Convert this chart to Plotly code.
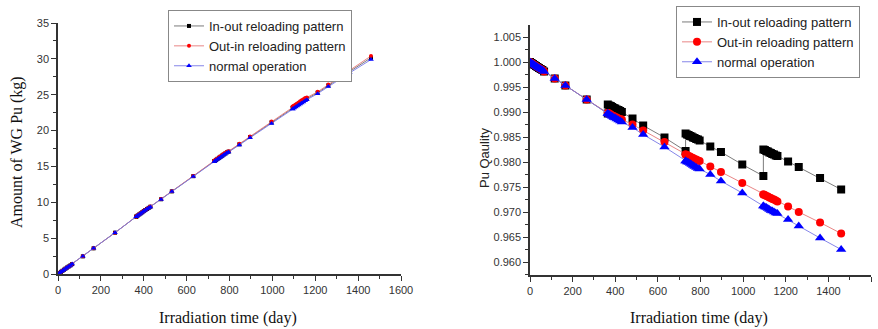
import plotly.graph_objects as go

# ---------------- data ----------------
time = [0, 7, 14, 21, 28, 35, 42, 50, 58, 66, 116, 166, 266, 365,
        365, 372, 379, 386, 393, 400, 407, 415, 423, 431, 481, 531, 631, 730,
        730, 737, 744, 751, 758, 765, 772, 780, 788, 796, 846, 896, 996, 1095,
        1095, 1102, 1109, 1116, 1123, 1130, 1137, 1145, 1153, 1161, 1211, 1261, 1361, 1460]

# Amount of WG Pu (kg)
wg_inout = [0, 0.15, 0.3, 0.45, 0.6, 0.75, 0.9, 1.05, 1.2, 1.38, 2.46, 3.58, 5.76, 8.0,
            8.0, 8.16, 8.31, 8.46, 8.61, 8.77, 8.92, 9.07, 9.22, 9.38, 10.42, 11.52, 13.64, 15.76,
            15.76, 15.91, 16.06, 16.2, 16.35, 16.5, 16.64, 16.8, 16.96, 17.06, 18.08, 19.1, 21.14, 23.18,
            23.18, 23.32, 23.46, 23.6, 23.74, 23.88, 24.02, 24.18, 24.33, 24.45, 25.28, 26.3, 28.24, 30.15]
wg_outin = [0, 0.15, 0.3, 0.45, 0.6, 0.75, 0.9, 1.05, 1.2, 1.38, 2.46, 3.58, 5.76, 8.02,
            8.02, 8.18, 8.33, 8.48, 8.63, 8.79, 8.94, 9.09, 9.24, 9.4, 10.45, 11.55, 13.68, 15.82,
            15.82, 15.97, 16.12, 16.27, 16.42, 16.57, 16.72, 16.88, 17.03, 17.12, 18.15, 19.18, 21.27, 23.35,
            23.35, 23.5, 23.64, 23.79, 23.93, 24.08, 24.22, 24.38, 24.53, 24.6, 25.4, 26.42, 28.42, 30.4]
wg_normal = [0, 0.15, 0.3, 0.45, 0.6, 0.75, 0.9, 1.05, 1.2, 1.38, 2.46, 3.58, 5.76, 8.0,
             8.0, 8.15, 8.3, 8.45, 8.6, 8.75, 8.9, 9.05, 9.2, 9.36, 10.4, 11.5, 13.6, 15.7,
             15.7, 15.85, 16.0, 16.14, 16.29, 16.43, 16.58, 16.74, 16.9, 17.0, 18.0, 19.0, 21.0, 23.0,
             23.0, 23.14, 23.28, 23.42, 23.56, 23.7, 23.84, 24.0, 24.16, 24.3, 25.15, 26.15, 28.05, 29.9]

# Pu quality
q_inout = [1.0000, 0.9998, 0.9996, 0.9994, 0.9992, 0.9990, 0.9988, 0.9986, 0.9984, 0.9981, 0.9967, 0.9953, 0.9925, 0.9897,
           0.9915, 0.9913, 0.9912, 0.9910, 0.9908, 0.9907, 0.9905, 0.9904, 0.9902, 0.9900, 0.9887, 0.9873, 0.9849, 0.9822,
           0.9857, 0.9855, 0.9854, 0.9852, 0.9851, 0.9849, 0.9848, 0.9846, 0.9845, 0.9843, 0.9831, 0.9820, 0.9795, 0.9772,
           0.9825, 0.9824, 0.9822, 0.9821, 0.9819, 0.9818, 0.9816, 0.9815, 0.9813, 0.9812, 0.9801, 0.9790, 0.9768, 0.9745]
q_outin = [1.0000, 0.9998, 0.9996, 0.9994, 0.9992, 0.9990, 0.9988, 0.9986, 0.9984, 0.9981, 0.9967, 0.9953, 0.9925, 0.9898,
           0.9898, 0.9897, 0.9895, 0.9893, 0.9892, 0.9890, 0.9889, 0.9887, 0.9886, 0.9885, 0.9875, 0.9863, 0.9840, 0.9815,
           0.9815, 0.9814, 0.9812, 0.9811, 0.9809, 0.9808, 0.9806, 0.9805, 0.9803, 0.9802, 0.9791, 0.9780, 0.9758, 0.9735,
           0.9735, 0.9734, 0.9732, 0.9731, 0.9729, 0.9728, 0.9726, 0.9725, 0.9723, 0.9721, 0.9711, 0.9700, 0.9679, 0.9657]
q_normal = [1.0000, 0.9998, 0.9996, 0.9994, 0.9992, 0.9990, 0.9988, 0.9986, 0.9984, 0.9981, 0.9967, 0.9953, 0.9925, 0.9897,
            0.9897, 0.9895, 0.9893, 0.9891, 0.9889, 0.9888, 0.9886, 0.9884, 0.9882, 0.9880, 0.9869, 0.9855, 0.9830, 0.9802,
            0.9802, 0.9800, 0.9799, 0.9797, 0.9795, 0.9793, 0.9791, 0.9789, 0.9787, 0.9786, 0.9775, 0.9762, 0.9738, 0.9712,
            0.9712, 0.9710, 0.9709, 0.9707, 0.9705, 0.9703, 0.9702, 0.9700, 0.9698, 0.9697, 0.9685, 0.9672, 0.9648, 0.9625]

names = ["In-out reloading pattern", "Out-in reloading pattern", "normal operation"]

# ---------------- figure ----------------
W, H = 878, 329
fig = go.Figure()

styles = [
    dict(color="black", line="rgba(90,90,90,0.8)", symbol="square"),
    dict(color="red", line="rgba(230,120,120,0.9)", symbol="circle"),
    dict(color="blue", line="rgba(120,120,230,0.9)", symbol="triangle-up"),
]

for name, y, st, ms in zip(names, [wg_inout, wg_outin, wg_normal], styles, [4, 4, 5]):
    fig.add_trace(go.Scatter(
        x=time, y=y, name=name, mode="lines+markers",
        line=dict(color=st["line"], width=1),
        marker=dict(color=st["color"], symbol=st["symbol"], size=ms),
        xaxis="x", yaxis="y", legend="legend"))

for name, y, st, ms in zip(names, [q_inout, q_outin, q_normal], styles, [8, 8, 9]):
    fig.add_trace(go.Scatter(
        x=time, y=y, name=name, mode="lines+markers",
        line=dict(color=st["line"], width=1),
        marker=dict(color=st["color"], symbol=st["symbol"], size=ms),
        xaxis="x2", yaxis="y2", legend="legend2"))

tickfont = dict(family="Liberation Sans, Arial", size=11, color="#333")
axis_common = dict(showline=True, linecolor="#333", linewidth=1.5, ticks="outside",
                   ticklen=5, tickwidth=1, tickcolor="#333", showgrid=False, zeroline=False,
                   tickfont=tickfont, automargin=False)


def px_x(p):
    return p / W


def px_y(p):
    return 1 - p / H


fig.update_layout(
    width=W, height=H,
    margin=dict(l=0, r=0, t=0, b=0, autoexpand=False),
    paper_bgcolor="white", plot_bgcolor="white",
    xaxis=dict(domain=[px_x(58), px_x(401)], range=[0, 1600], dtick=200,
               minor=dict(ticks="outside", ticklen=3, dtick=100, tickcolor="#333"),
               anchor="y", **axis_common),
    yaxis=dict(domain=[px_y(274), px_y(23)], range=[0, 35], dtick=5,
               minor=dict(ticks="outside", ticklen=3, dtick=2.5, tickcolor="#333"),
               anchor="x", **axis_common),
    xaxis2=dict(domain=[px_x(530), px_x(871)], range=[0, 1600], dtick=200,
                minor=dict(ticks="outside", ticklen=3, dtick=100, tickcolor="#333"),
                anchor="y2", **axis_common),
    yaxis2=dict(domain=[px_y(275), px_y(25)], range=[0.9574, 1.0074], dtick=0.005,
                tickformat=".3f",
                minor=dict(ticks="outside", ticklen=3, dtick=0.0025, tickcolor="#333"),
                anchor="x2", **axis_common),
    legend=dict(x=px_x(168), y=px_y(10), xanchor="left", yanchor="top",
                bordercolor="#888", borderwidth=1, bgcolor="white",
                font=dict(family="Liberation Sans, Arial", size=13, color="#222"),
                tracegroupgap=0, itemwidth=30),
    legend2=dict(x=px_x(676), y=px_y(6), xanchor="left", yanchor="top",
                 bordercolor="#888", borderwidth=1, bgcolor="white",
                 font=dict(family="Liberation Sans, Arial", size=13, color="#222"),
                 tracegroupgap=0, itemwidth=30),
    showlegend=True,
)

serif = dict(family="Liberation Serif, Times New Roman", size=16, color="#111")
annots = [
    dict(text="Irradiation time (day)", x=px_x(228), y=px_y(318), font=serif, textangle=0),
    dict(text="Amount of WG Pu (kg)", x=px_x(17), y=px_y(152), font=serif, textangle=-90),
    dict(text="Irradiation time (day)", x=px_x(699), y=px_y(318), font=serif, textangle=0),
    dict(text="Pu Qaulity", x=px_x(484), y=px_y(158),
         font=dict(family="Liberation Sans, Arial", size=13, color="#222"), textangle=-90),
]
for a in annots:
    fig.add_annotation(xref="paper", yref="paper", showarrow=False,
                       xanchor="center", yanchor="middle", **a)

fig.write_html("out.html",
               config={"displayModeBar": False},
               post_script="document.body.style.margin='0';document.body.style.overflow='hidden';")
